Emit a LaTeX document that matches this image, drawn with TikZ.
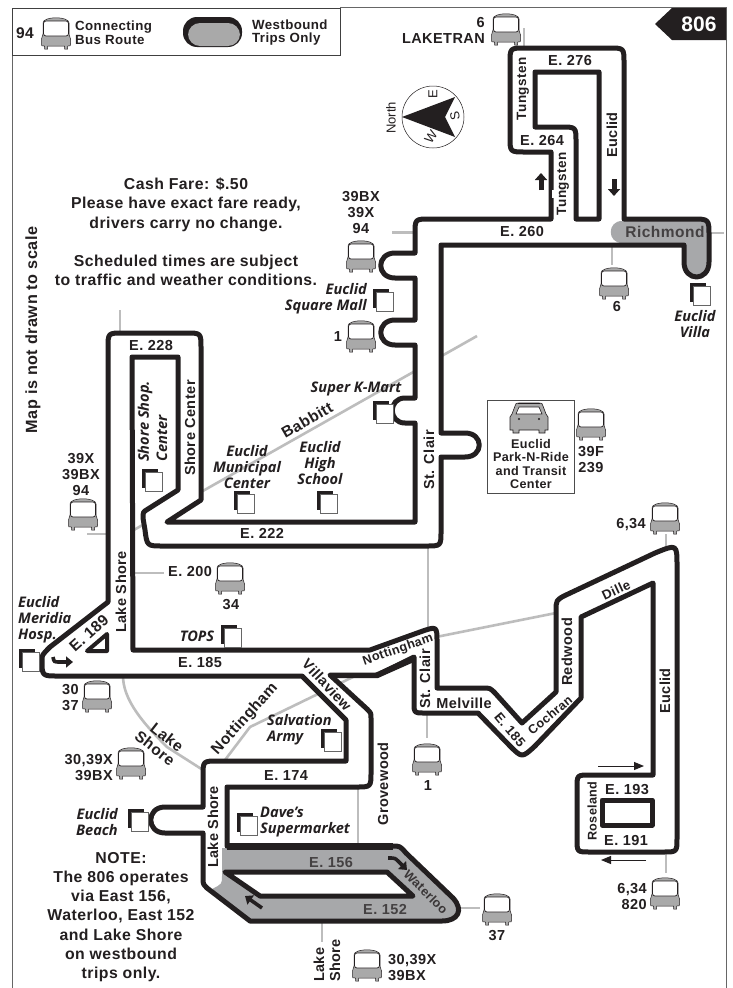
\documentclass[tikz,border=0pt]{standalone}
\usepackage{fontspec}
\usetikzlibrary{arrows.meta}
\setmainfont{Liberation Sans}
\newfontfamily\bsf[LetterSpace=3]{Liberation Sans}
\newfontfamily\isf{Open Sans}
\definecolor{ink}{HTML}{231F20}
\definecolor{road}{HTML}{BDBDBD}
\definecolor{busgray}{HTML}{A9A9A9}
\definecolor{zone}{HTML}{A7A8AA}
\tikzset{
 x=1pt,y=-1pt,
 lab/.style={font=\bsf\bfseries\fontsize{14.5}{16}\selectfont,inner sep=0pt,text=ink},
 labm/.style={lab,font=\bsf\bfseries\fontsize{13.3}{13.5}\selectfont},
 labl/.style={lab,font=\bsf\bfseries\fontsize{15.5}{16}\selectfont},
 lab19/.style={lab,font=\bsf\bfseries\fontsize{15.8}{19.2}\selectfont},
 labs/.style={lab,font=\bsf\bfseries\fontsize{12.6}{13.5}\selectfont},
 ital/.style={font=\isf\bfseries\itshape\fontsize{14.6}{16}\selectfont,inner sep=0pt,text=ink},
 thin text/.style={font=\fontsize{13}{14}\selectfont,inner sep=0pt,text=ink},
 roadline/.style={draw=road,line width=2.6pt},
 routeline/.style={draw=ink,line width=5pt,line join=round},
 fat/.style={draw=ink,line width=5pt,-{Triangle[length=7pt,width=12pt]}},
 bent/.style={draw=ink,line width=3.6pt,-{Triangle[length=7pt,width=11pt]}},
 slim/.style={draw=ink,line width=1pt,-{Triangle[length=10pt,width=8pt]}},
 busicon/.pic={
  \path[fill=busgray,draw=ink,line width=.5pt] (-13,-10) .. controls (-13,-17) and (13,-17) .. (13,-10) -- (13,1) -- (14.5,6) -- (14.5,11) .. controls (14.5,13) .. (12,13) -- (11.5,13) -- (11.5,16) -- (8.5,16) -- (8.5,13) -- (-8.5,13) -- (-8.5,16) -- (-11.5,16) -- (-11.5,13) -- (-12,13) .. controls (-14.5,13) .. (-14.5,11) -- (-14.5,6) -- (-13,1) -- cycle;
  \path[fill=white,draw=ink,line width=.7pt,rounded corners=2.5pt] (-12.5,-12) rectangle (12.5,3);
 },
 stopicon/.pic={
  \fill[ink] (-10,-11) rectangle (6,8);
  \path[fill=white,draw=black!60,line width=.6pt] (-7,-8) rectangle (10,11);
 },
}
\begin{document}
\begin{tikzpicture}
\useasboundingbox (0,0) rectangle (733,988);
\fill[white] (0,0) rectangle (733,988);
% frame
\draw[black!60,line width=1pt] (12,55) -- (12,988);
\draw[black!60,line width=1pt] (340,7.5) -- (726,7.5) -- (726,988);
\path[fill=white,draw=black!75,line width=1pt] (12,8) rectangle (340,55);
% legend
\pic (legbus) at (56,33) {busicon};
\fill[ink,rounded corners=14pt] (183,17) rectangle (242,47);
\fill[busgray,rounded corners=12pt] (188,23) rectangle (240,46);
\node[labl] (leg94) at (25,33) {94};
\node[labm,anchor=west,align=left] (legA) at (75,32.5) {Connecting\\Bus Route};
\node[labm,anchor=west,align=left] (legB) at (252,32.5) {Westbound\\Trips Only};
% route number tag
\fill[ink] (655,24) -- (672,8) -- (726,8) -- (726,40) -- (672,40) -- cycle;
\node[font=\bfseries\fontsize{21}{22}\selectfont,text=white,inner sep=0pt] (tag) at (699,24) {806};
% compass
\draw[ink,line width=.5pt] (433,117) circle[radius=31];
\fill[ink] (402,117) -- (455,97) -- (445,117) -- (455,137) -- cycle;
\node[thin text,rotate=90] (cN) at (391,118) {North};
\node[thin text,rotate=90] (cE) at (433,94) {E};
\node[thin text,rotate=100] (cS) at (455,116) {S};
\node[thin text,rotate=55] (cW) at (431,137) {W};
% grey roads
\draw[roadline] (392,232.5) -- (420,232.5);
\draw[roadline] (524,28) -- (524,50);
\draw[roadline] (705,233) -- (724,233);
\draw[roadline] (612,243) -- (612,265);
\draw[roadline] (120,310) -- (120,335);
\draw[roadline] (477,336) -- (132,531);
\draw[roadline] (87,534) -- (110,534);
\draw[roadline] (133,573) -- (164,573);
\draw[roadline] (428,544) -- (428,635);
\draw[roadline] (436,637) -- (556,613);
\draw[roadline] (123,674) .. controls (122,700) and (145,725) .. (167,747) -- (203,770);
\draw[roadline] (225,760) -- (250,727) -- (355,676);
\draw[roadline] (427,712) -- (427,738);
\draw[roadline] (358,785) -- (358,849);
\draw[roadline] (455,908) -- (480,908);
\draw[roadline] (322,919) -- (322,942);
\draw[roadline] (666,850) -- (666,873);
\draw[roadline] (666,534) -- (666,554);
% route body
\def\routepath{(480,219) -- (551,219) -- (551,152) -- (525,152) .. controls (510,152) .. (510,137) -- (510,63) .. controls (510,48) .. (525,48) -- (609,48) .. controls (624,48) .. (624,63) -- (624,219) -- (692,219) .. controls (709,219) .. (709,236) -- (709,262) .. controls (709,282) and (684,282) .. (684,262) -- (684,245) -- (441,245) -- (441,433) -- (465,433) .. controls (484,433) and (484,457) .. (465,457) -- (441,457) -- (441,531) .. controls (441,546) .. (426,546) -- (163,546) .. controls (147,546) .. (145,530) -- (143,518) .. controls (143,512) .. (148,509) -- (178,490) -- (178,357) -- (132,357) -- (133,650) -- (370,650) -- (420,632) .. controls (437,626) .. (437,642) -- (437,688) -- (483,688) .. controls (490,688) .. (495,693) -- (522,723) -- (556,692) -- (556,612) .. controls (556,600) .. (566,595) -- (655,553) .. controls (677,544) .. (677,566) -- (677,838) .. controls (677,852) .. (663,852) -- (590,852) .. controls (577,852) .. (577,839) -- (577,788) .. controls (577,775) .. (590,775) -- (653,775) -- (653,583) -- (581,617) -- (581,698) -- (535,746) .. controls (522,758) .. (510,746) -- (478,713) -- (424,713) .. controls (414,713) .. (414,703) -- (414,657) -- (378,675) -- (330,675) -- (367,709) .. controls (371,713) .. (371,718) -- (371,772) .. controls (371,787) .. (356,787) -- (227,787) -- (227,846) -- (392,846) .. controls (400,846) .. (406,853) -- (453,898) .. controls (464,910) and (458,921) .. (442,921) -- (250,921) -- (207,888) .. controls (203,884) .. (203,878) -- (203,833) -- (165,833) .. controls (146,833) and (146,807) .. (165,807) -- (203,807) -- (203,776) .. controls (203,761) .. (218,761) -- (346,761) -- (346,720) -- (302,676) -- (58,676) .. controls (42,676) .. (42,660) .. controls (42,655) .. (50,647) -- (108,602) -- (108,348) .. controls (108,333) .. (123,333) -- (186,333) .. controls (201,333) .. (201,348) -- (201,500) -- (167,522) -- (415,522) -- (415,423) -- (405,423) .. controls (388,423) and (388,398) .. (405,398) -- (415,398) -- (415,345) -- (395,345) .. controls (376,345) and (376,320) .. (395,320) -- (415,320) -- (415,278) -- (395,278) .. controls (376,278) and (376,253) .. (395,253) -- (415,253) -- (415,234) .. controls (415,219) .. (430,219) -- cycle}
\fill[white] \routepath;
% westbound-only zones
\fill[zone] (622,221) .. controls (607,221) and (607,243) .. (622,243) -- (686,243) -- (686,262) .. controls (686,279) and (707,279) .. (707,262) -- (707,236) .. controls (707,221) .. (692,221) -- cycle;
\fill[zone] (222,848) -- (392,848) .. controls (400,848) .. (406,853) -- (453,898) .. controls (464,910) and (458,919) .. (442,919) -- (250,919) -- (212,889) .. controls (222,884) .. (222,876) -- cycle;
\draw[routeline] \routepath;
\draw[ink,line width=7pt] (227,846.5) -- (393,846.5);
% inner outlines
\path[fill=white,routeline] (535,72) -- (599,72) -- (599,219) -- (576,219) -- (576,142) .. controls (576,127) .. (561,127) -- (535,127) -- cycle;
\path[fill=white,routeline] (225,872) -- (387,872) -- (413,896) -- (260,896) -- cycle;
\path[fill=white,routeline] (602,800) rectangle (652,825);
\path[fill=white,routeline,line width=4pt] (87,651) -- (107,634) -- (107,651) -- cycle;
\fill[ink] (330,673) -- (375,673) -- (414,655) -- (414,662) -- (378,678) -- (330,678) -- cycle;
\fill[white] (552,190) rectangle (555,198);
% direction arrows
\draw[fat] (541,190) -- (541,173);
\draw[fat] (614,179) -- (614,196);
\draw[bent] (53,657) .. controls (54,662) .. (60,662) -- (73,662);
\draw[bent] (388,858) .. controls (395,858) .. (398,861) -- (407,870);
\draw[bent] (262,908) -- (245,896);
\draw[slim] (598,766) -- (644,766);
\draw[slim] (646,860) -- (601,860);
% buses
\pic (b1) at (506,29) {busicon};
\pic (b2) at (614,283) {busicon};
\pic (b3) at (361,256) {busicon};
\pic (b4) at (361,336) {busicon};
\pic (b5) at (591,424) {busicon};
\pic (b6) at (665,518) {busicon};
\pic (b7) at (83,514) {busicon};
\pic (b8) at (230,578) {busicon};
\pic (b9) at (97,696) {busicon};
\pic (b10) at (131,763) {busicon};
\pic (b11) at (427,759) {busicon};
\pic (b12) at (497,909) {busicon};
\pic (b13) at (665,893) {busicon};
\pic (b14) at (367,965) {busicon};
% stops
\pic (s1) at (700,294) {stopicon};
\pic (s2) at (383,300) {stopicon};
\pic (s3) at (383,412) {stopicon};
\pic (s4) at (152,480) {stopicon};
\pic (s5) at (244,502) {stopicon};
\pic (s6) at (327,502) {stopicon};
\pic (s7) at (231,636) {stopicon};
\pic (s8) at (29,660) {stopicon};
\pic (s9) at (331,740) {stopicon};
\pic (s10) at (138,820) {stopicon};
\pic (s11) at (247,824) {stopicon};
% park and ride
\draw[black!70,line width=.8pt] (487,400) rectangle (574,493);
\path[fill=busgray,draw=ink,line width=.6pt] (529,403) -- (519,403) .. controls (516,403) .. (515,406) -- (512,414) -- (510,417) -- (510,430) -- (513,430) -- (513,433) -- (519,433) -- (519,430) -- (539,430) -- (539,433) -- (545,433) -- (545,430) -- (548,430) -- (548,417) -- (546,414) -- (543,406) .. controls (542,403) .. (539,403) -- cycle;
\draw[ink,line width=1.6pt] (518,403.5) -- (540,403.5);
\path[fill=white,draw=ink,line width=.6pt] (519,407) -- (539,407) -- (542,414) -- (516,414) -- cycle;
\fill[ink] (519,419) circle[radius=1.1];
\fill[ink] (539,419) circle[radius=1.1];
\node[labs,align=center] (pr) at (531,464) {Euclid\\Park-N-Ride\\and Transit\\Center};
% notes
\node[lab19,align=center] (fare) at (186,232) {Cash Fare: \$.50\\Please have exact fare ready,\\drivers carry no change.\\[19.2pt]Scheduled times are subject\\to traffic and weather conditions.};
\node[lab,font=\bsf\bfseries\fontsize{16.2}{17}\selectfont,rotate=90] (scale) at (33,330) {Map is not drawn to scale};
\node[lab19,align=center] (note) at (121,917) {NOTE:\\The 806 operates\\via East 156,\\Waterloo, East 152\\and Lake Shore\\on westbound\\trips only.};
% bus numbers
\node[lab,align=center] (n1) at (361,213) {39BX\\39X\\94};
\node[lab] (n2) at (338,337) {1};
\node[lab,anchor=east,align=right] (n3) at (485,30) {6\\LAKETRAN};
\node[lab] (n4) at (617,307) {6};
\node[lab,align=center] (n5) at (591,459.5) {39F\\239};
\node[lab,anchor=east] (n6) at (646,525) {6,34};
\node[lab,align=center] (n7) at (81,475) {39X\\39BX\\94};
\node[lab] (n8) at (231,605) {34};
\node[lab,anchor=east,align=right] (n9) at (79,698) {30\\37};
\node[lab,anchor=east,align=right] (n10) at (113,767.5) {30,39X\\39BX};
\node[lab] (n11) at (428,786) {1};
\node[lab] (n12) at (497,936) {37};
\node[lab,anchor=east,align=right] (n13) at (647,896) {6,34\\820};
\node[lab,anchor=west,align=left] (n14) at (388,968) {30,39X\\39BX};
% places
\node[ital,align=right,anchor=east] (p1) at (367,299) {Euclid\\Square Mall};
\node[ital,align=center] (p2) at (695,324) {Euclid\\Villa};
\node[ital] (p3) at (356,389) {Super K-Mart};
\node[ital,rotate=90,anchor=west] (p4a) at (145,462) {Shore Shop.};
\node[ital,rotate=90,anchor=west] (p4b) at (162,462) {Center};
\node[ital,align=center] (p5) at (247,467) {Euclid\\Municipal\\Center};
\node[ital,align=center] (p6) at (320,463) {Euclid\\High\\School};
\node[ital] (p7) at (197,636) {TOPS};
\node[ital,align=left,anchor=west] (p8) at (18,620) {Euclid\\Meridia\\Hosp.};
\node[ital,align=left,anchor=west] (p9) at (267,730) {Salvation\\Army};
\node[ital,align=left,anchor=west] (p10) at (260,822) {Dave’s\\Supermarket};
\node[ital,align=right,anchor=east] (p11) at (118,822) {Euclid\\Beach};
% streets
\node[lab] (r1) at (570,61) {E. 276};
\node[lab,font=\bsf\bfseries\fontsize{13.5}{16}\selectfont,rotate=90] (r2) at (523,89) {Tungsten};
\node[lab] (r3) at (542,141) {E. 264};
\node[lab,font=\bsf\bfseries\fontsize{13.5}{16}\selectfont,rotate=90] (r4) at (563,184) {Tungsten};
\node[lab,rotate=90] (r5) at (612,135) {Euclid};
\node[lab] (r6) at (522,232) {E. 260};
\node[labl,text=ink!85] (r7) at (665,232) {Richmond};
\node[lab,rotate=90] (r8) at (429,460) {St. Clair};
\node[lab] (r9) at (151,346) {E. 228};
\node[lab,rotate=90] (r10) at (190,428) {Shore Center};
\node[labl,rotate=30] (r11) at (307,420) {Babbitt};
\node[lab] (r12) at (262,533) {E. 222};
\node[lab,rotate=90] (r13) at (121,592) {Lake Shore};
\node[lab] (r14) at (190,572) {E. 200};
\node[labl,rotate=42] (r15) at (89,633) {E. 189};
\node[lab] (r16) at (200,663) {E. 185};
\node[labl,rotate=-38] (r17) at (167,737) {Lake};
\node[labl,rotate=-38] (r18) at (155,748) {Shore};
\node[labl,rotate=48] (r19) at (245,719) {Nottingham};
\node[lab,rotate=-47] (r20) at (327,685) {Villaview};
\node[labs,rotate=19] (r21) at (398,650) {Nottingham};
\node[lab,rotate=90] (r22) at (425,679) {St. Clair};
\node[lab] (r23) at (464,703) {Melville};
\node[labm,rotate=-50] (r24) at (510,730) {E. 185};
\node[labs,rotate=40] (r25) at (550,715) {Cochran};
\node[lab,rotate=90] (r26) at (567,652) {Redwood};
\node[labm,rotate=25] (r27) at (616,590) {Dille};
\node[lab,rotate=90] (r28) at (665,691) {Euclid};
\node[lab] (r29) at (627,790) {E. 193};
\node[lab] (r30) at (626,840) {E. 191};
\node[labs,rotate=90] (r31) at (592,811) {Roseland};
\node[lab,rotate=90] (r32) at (383,784) {Grovewood};
\node[labs,rotate=-45,text=ink!90] (r33) at (426,892) {Waterloo};
\node[lab,text=ink!85] (r34) at (331,862) {E. 156};
\node[lab,text=ink!85] (r35) at (385,909) {E. 152};
\node[lab,rotate=90,anchor=west] (r36) at (319,982) {Lake};
\node[lab,rotate=90,anchor=west] (r37) at (335,982) {Shore};
\node[lab] (r38) at (286,776) {E. 174};
\node[lab,rotate=90] (r39) at (213,827) {Lake Shore};
\end{tikzpicture}
\end{document}
